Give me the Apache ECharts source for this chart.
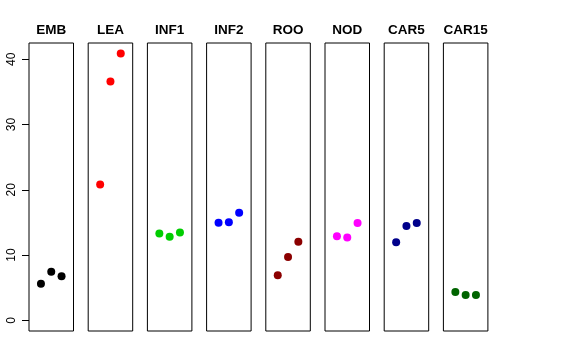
<!DOCTYPE html>
<html><head><meta charset="utf-8">
<script src="https://cdn.jsdelivr.net/npm/echarts@6/dist/echarts.min.js"></script>
<style>html,body{margin:0;padding:0;background:#fff}#c{width:576px;height:360px}</style>
</head><body><div id="c"></div>
<script>
var categories = ["EMB","LEA","INF1","INF2","ROO","NOD","CAR5","CAR15"];
var colors = ["#000000","#FF0000","#00CD00","#0000FF","#8B0000","#FF00FF","#00008B","#006400"];
var EMB = [5.6, 7.45, 6.75];
var LEA = [20.8, 36.6, 40.9];
var INF1 = [13.3, 12.8, 13.45];
var INF2 = [14.95, 15.05, 16.5];
var ROO = [6.9, 9.7, 12.05];
var NOD = [12.9, 12.7, 14.9];
var CAR5 = [11.95, 14.45, 14.9];
var CAR15 = [4.35, 3.9, 3.9];
var seriesValues = [EMB, LEA, INF1, INF2, ROO, NOD, CAR5, CAR15];
var yTickMin = 0, yTickMax = 40, yTickStep = 10;

(function(){
var yMin = -1.63, yMax = 42.5;
var grids = [], xAxes = [], yAxes = [], series = [];
var left0 = 29, step = 59.2, pw = 44.5, gTop = 43, gH = 288;
var fam = 'Liberation Sans, Arial, sans-serif';
categories.forEach(function(name, i){
  var l = left0 + step * i;
  grids.push({left: l, top: gTop, width: pw, height: gH, show: true, borderColor: '#000', borderWidth: 1, backgroundColor: 'transparent'});
  xAxes.push({type: 'value', gridIndex: i, min: -0.16, max: 4.16, position: 'top',
    name: name, nameLocation: 'middle', nameGap: 6,
    nameTextStyle: {fontSize: 13.5, fontWeight: 'bold', color: '#000', fontFamily: fam},
    axisLine: {show: false}, axisTick: {show: false}, axisLabel: {show: false}, splitLine: {show: false}});
  yAxes.push({type: 'value', gridIndex: i, min: yMin, max: yMax, show: false});
  series.push({type: 'scatter', xAxisIndex: i, yAxisIndex: i, symbol: 'circle', symbolSize: 8,
    itemStyle: {color: colors[i], opacity: 1}, silent: true,
    data: seriesValues[i].map(function(v, j){ return [j + 1, v]; })});
});
var pxPer = gH / (yMax - yMin);
var axTop = gTop + (yMax - yTickMax) * pxPer;
var axH = (yTickMax - yTickMin) * pxPer;
grids.push({left: left0, top: axTop, width: pw, height: axH, show: false});
xAxes.push({type: 'value', gridIndex: 8, min: 0, max: 1, show: false});
yAxes.push({type: 'value', gridIndex: 8, min: yTickMin, max: yTickMax, interval: yTickStep,
  axisLine: {show: false}, splitLine: {show: false},
  axisTick: {show: true, length: 7, lineStyle: {color: '#000'}},
  axisLabel: {show: true, rotate: 90, margin: 11, color: '#000', fontSize: 12, fontFamily: fam}
});

var chart = echarts.init(document.getElementById('c'), null, {renderer: 'canvas'});
chart.setOption({animation: false, grid: grids, xAxis: xAxes, yAxis: yAxes, series: series});
})();
</script></body></html>
